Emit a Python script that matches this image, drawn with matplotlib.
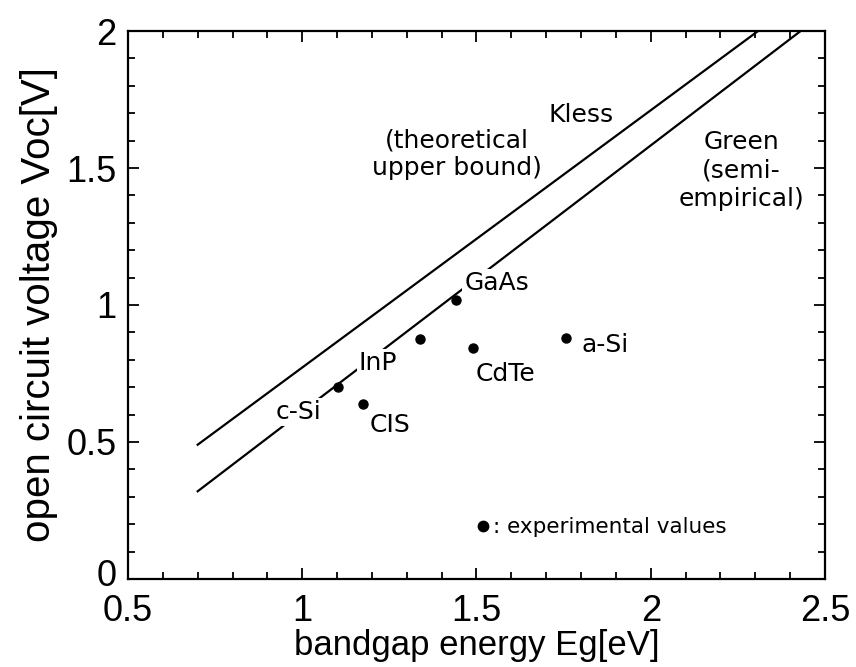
import matplotlib.pyplot as plt
from matplotlib.ticker import MultipleLocator, FormatStrFormatter
from matplotlib.transforms import ScaledTranslation

kless_eg = [0.7, 2.308]
kless_voc = [0.49, 2.0]
green_eg = [0.7, 2.43]
green_voc = [0.32, 2.0]

# experimental cells
cells = ["c-Si", "CIS", "InP", "GaAs", "CdTe", "a-Si"]
cell_eg = [1.103, 1.175, 1.338, 1.440, 1.489, 1.757]
cell_voc = [0.702, 0.639, 0.875, 1.018, 0.842, 0.881]
# label positions for each cell
label_eg = [0.988, 1.252, 1.218, 1.558, 1.582, 1.869]
label_voc = [0.610, 0.562, 0.787, 1.081, 0.748, 0.854]

plt.rcParams['font.family'] = ['Liberation Sans', 'DejaVu Sans']

fig = plt.figure(figsize=(8.56, 6.67), dpi=100)
ax = fig.add_axes([0.1495, 0.132, 0.8143, 0.8215])

ax.plot(kless_eg, kless_voc, color='black', linewidth=1.6, zorder=2)
ax.plot(green_eg, green_voc, color='black', linewidth=1.6, zorder=2)
ax.plot(cell_eg, cell_voc, 'o', color='black', markersize=6.5, zorder=4,
        label=": experimental values")

for name, x, y in zip(cells, label_eg, label_voc):
    ax.text(x, y, name, ha='center', va='center', fontsize=18, family='DejaVu Sans',
            bbox=dict(facecolor='white', edgecolor='none', pad=1.5), zorder=3)

ax.text(1.80, 1.693, "Kless", ha='center', va='center', fontsize=18, family='DejaVu Sans')
ax.text(1.445, 1.55, "(theoretical\nupper bound)", ha='center', va='center', fontsize=18,
        family='DejaVu Sans', linespacing=1.15)
ax.text(2.26, 1.49, "Green\n(semi-\nempirical)", ha='center', va='center', fontsize=18,
        family='DejaVu Sans', linespacing=1.25)

ax.legend(loc='center left', bbox_to_anchor=(0.4964, 0.094), frameon=False,
          borderpad=0, borderaxespad=0, handlelength=0.8, handletextpad=0.1,
          markerscale=1.15, prop={'family': 'DejaVu Sans', 'size': 15.5})

ax.set_xlim(0.5, 2.5)
ax.set_ylim(0, 2)
ax.xaxis.set_major_locator(MultipleLocator(0.5))
ax.xaxis.set_minor_locator(MultipleLocator(0.1))
ax.yaxis.set_major_locator(MultipleLocator(0.5))
ax.yaxis.set_minor_locator(MultipleLocator(0.1))
ax.xaxis.set_major_formatter(FormatStrFormatter('%g'))
ax.yaxis.set_major_formatter(FormatStrFormatter('%g'))

ax.tick_params(which='both', direction='in', top=True, right=True, width=1.3)
ax.tick_params(which='major', length=8, labelsize=26)
ax.tick_params(axis='x', which='major', pad=11)
ax.tick_params(axis='y', which='major', pad=8)
ax.tick_params(which='minor', length=5)
for sp in ax.spines.values():
    sp.set_linewidth(1.6)

ax.set_xlabel("bandgap energy Eg[eV]", fontsize=25, labelpad=0)
ax.set_ylabel("open circuit voltage Voc[V]", fontsize=29, labelpad=6)

# the "0" on the y axis sits a little above the corner in the original
fig.canvas.draw()
for lbl in ax.get_yticklabels():
    if lbl.get_text() == "0":
        lbl.set_transform(lbl.get_transform() + ScaledTranslation(0, 5 / 72, fig.dpi_scale_trans))

fig.savefig("out.png", dpi=100)
